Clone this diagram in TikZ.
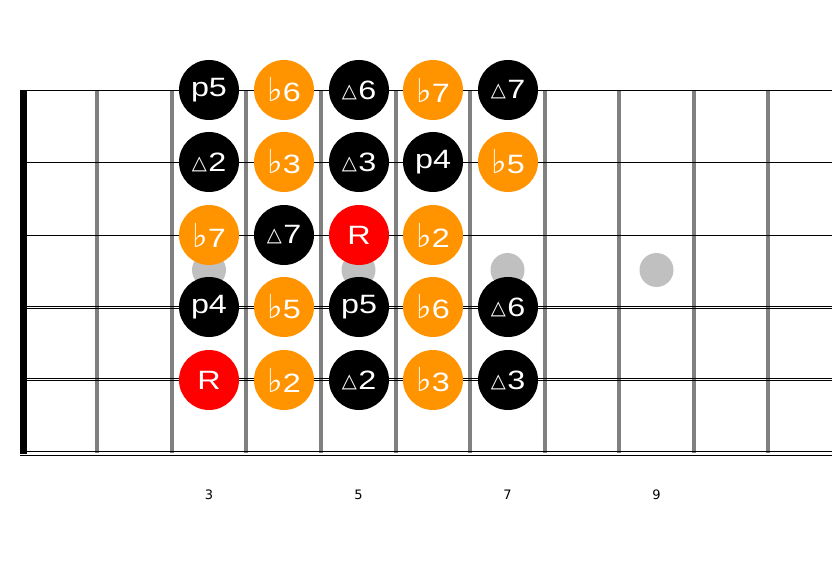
\documentclass[tikz,border=0pt]{standalone}
\usepackage{fontspec}
\setmainfont{Liberation Sans}
\newfontfamily\symfont{DejaVu Sans}
\newfontfamily\notefont[FakeStretch=1.22]{Liberation Sans}
\definecolor{noteorange}{RGB}{255,148,0}
\definecolor{fretgray}{RGB}{128,128,128}
\definecolor{dotgray}{RGB}{192,192,192}
\newcommand{\fl}{{\symfont\fontsize{33}{33}\selectfont ♭}}
\newcommand{\mj}{\raisebox{2pt}{\symfont\fontsize{19.5}{19.5}\selectfont △}\kern1.5pt}
\tikzset{
	noteblack/.style={circle, fill=black, text=white, minimum size=60pt, inner sep=0pt, font=\notefont\fontsize{26.5}{26.5}\selectfont},
	noteorange/.style={noteblack, fill=noteorange},
	notered/.style={noteblack, fill=red},
	fretnum/.style={font=\symfont\fontsize{13}{13}\selectfont},
	wire/.style={line width=0.8pt},
}

\begin{document}
\begin{tikzpicture}[x=1pt, y=-1pt]
			%%%%% START %%%%%
			\useasboundingbox (0, 0) rectangle (832, 588);
			
			% frets
			\draw[line width=4.5pt, color=fretgray] (97, 90) -- (97, 453);
			\draw[line width=4.5pt, color=fretgray] (172, 90) -- (172, 453);
			\draw[line width=4.5pt, color=fretgray] (246, 90) -- (246, 453);
			\draw[line width=4.5pt, color=fretgray] (321, 90) -- (321, 453);
			\draw[line width=4.5pt, color=fretgray] (396, 90) -- (396, 453);
			\draw[line width=4.5pt, color=fretgray] (470, 90) -- (470, 453);
			\draw[line width=4.5pt, color=fretgray] (545, 90) -- (545, 453);
			\draw[line width=4.5pt, color=fretgray] (619, 90) -- (619, 453);
			\draw[line width=4.5pt, color=fretgray] (694, 90) -- (694, 453);
			\draw[line width=4.5pt, color=fretgray] (768, 90) -- (768, 453);
			
			% nut
			\draw[fill=black] (20, 90) rectangle (26, 453);
			
			% strings
			\draw[wire] (20, 90) -- (832, 90);
			\draw[wire] (20, 162) -- (832, 162);
			\draw[wire] (20, 235) -- (832, 235);
			\draw[wire] (20, 306) -- (832, 306);
			\draw[wire] (20, 308.2) -- (832, 308.2);
			\draw[wire] (20, 378.3) -- (832, 378.3);
			\draw[wire] (20, 380.8) -- (832, 380.8);
			\draw[wire] (20, 451.3) -- (832, 451.3);
			\draw[wire] (20, 455.3) -- (832, 455.3);
			
			% markers
			\fill[dotgray] (209, 270) circle (17);
			\fill[dotgray] (358.5, 270) circle (17);
			\fill[dotgray] (507.5, 270) circle (17);
			\fill[dotgray] (656.5, 270) circle (17);
			
			\node[fretnum] (n3) at (209, 495) {3};
			\node[fretnum] (n5) at (358.5, 495) {5};
			\node[fretnum] (n7) at (507.5, 495) {7};
			\node[fretnum] (n9) at (656.5, 495) {9};
			
			% notes
			\node[noteblack] (a3) at (209, 90) {p5};
			\node[noteorange] (a4) at (284, 90) {\fl6};
			\node[noteblack] (a5) at (359, 90) {\mj6};
			\node[noteorange] (a6) at (433, 90) {\fl7};
			\node[noteblack] (a7) at (508, 90) {\mj7};
			
			\node[noteblack] (b3) at (209, 162) {\mj2};
			\node[noteorange] (b4) at (284, 162) {\fl3};
			\node[noteblack] (b5) at (359, 162) {\mj3};
			\node[noteblack] (b6) at (433, 162) {p4};
			\node[noteorange] (b7) at (508, 162) {\fl5};
			
			\node[noteorange] (c3) at (209, 235) {\fl7};
			\node[noteblack] (c4) at (284, 235) {\mj7};
			\node[notered] (c5) at (359, 235) {R};
			\node[noteorange] (c6) at (433, 235) {\fl2};
			
			\node[noteblack] (d3) at (209, 307) {p4};
			\node[noteorange] (d4) at (284, 307) {\fl5};
			\node[noteblack] (d5) at (359, 307) {p5};
			\node[noteorange] (d6) at (433, 307) {\fl6};
			\node[noteblack] (d7) at (508, 307) {\mj6};
			
			\node[notered] (e3) at (209, 380) {R};
			\node[noteorange] (e4) at (284, 380) {\fl2};
			\node[noteblack] (e5) at (359, 380) {\mj2};
			\node[noteorange] (e6) at (433, 380) {\fl3};
			\node[noteblack] (e7) at (508, 380) {\mj3};
			
			%%%%% END %%%%%
\end{tikzpicture}
\end{document}
